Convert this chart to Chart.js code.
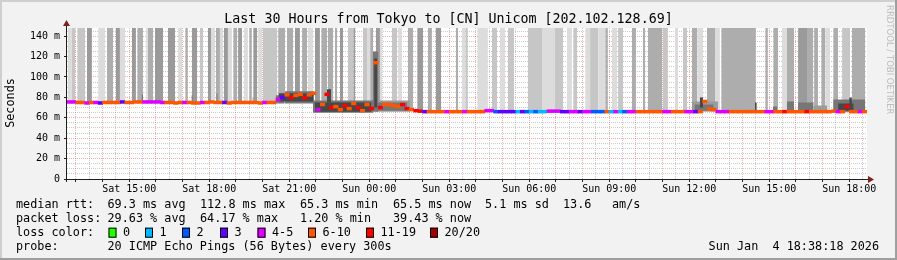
<!DOCTYPE html>
<html>
<head>
<meta charset="UTF-8">
<title>Last 30 Hours from Tokyo to [CN] Unicom [202.102.128.69]</title>
<script src="https://cdn.jsdelivr.net/npm/chart.js"></script>
<style>
  html, body { margin: 0; padding: 0; background: #f2f2f2; }
  #wrap { position: relative; width: 897px; height: 260px; }
</style>
</head>
<body>
<div id="wrap"><canvas id="smoke"></canvas></div>
<script>
// time is minutes counted from Sat 00:00
const startMin = 760;   // Sat 12:40
const endMin = 2560;    // Sun 18:40
const stepMin = 10;     // one median sample per 10 minutes
const yMax = 148;

const xTickTimes = [900, 1080, 1260, 1440, 1620, 1800, 1980, 2160, 2340, 2520];
const xTickLabels = ['Sat 15:00', 'Sat 18:00', 'Sat 21:00', 'Sun 00:00', 'Sun 03:00',
                     'Sun 06:00', 'Sun 09:00', 'Sun 12:00', 'Sun 15:00', 'Sun 18:00'];
const yTickValues = [0, 20, 40, 60, 80, 100, 120, 140];
const yTickLabels = ['0', '20 m', '40 m', '60 m', '80 m', '100 m', '120 m', '140 m'];

// median rtt (ms), one value per 10 min
const median = [
  75.5,75.5,75,75,74.5,75,75,74.5,75,75,
  75,75,75.5,75,75,75.5,75.5,75.5,75.5,75.5,
  75.5,75,75,75,74.5,75,75,75,74.5,74.5,
  75,75,75.5,75,75,75,74.5,75,75,75,
  75,75,75,74.5,75,75,75,78,80,82.5,
  80,82,83,79.5,82.5,84,68,73,83,70,
  71,68,72,69,74,70,67,73,69,114,
  70,73,73,72,71,73,69,68,67,66.5,
  66,66,66,66,66,66,66,66,66,66,
  66,66,66,66,67,67,66,66,66,66,
  66,66,66,66,66,66,66,66,66.5,66.5,
  66.5,66,66,66,66,66,66,66,66,66,
  66,66,66,66,66,66,66,66,66,66,
  66,66,66,66,66,66,66,66,66,66,
  66,66,66,76,68.5,68,66,66,66,66,
  66,66,66,66,66,66,66,66,66,66,
  66,66,66,66,66,66,66,66,66,66,
  66,66,66.5,66,66,71,66,66,66,66
];

// loss colour class per sample (index into lossColors)
const loss = [
  4,4,5,5,4,5,4,3,5,5,
  5,5,3,5,5,5,5,4,4,4,
  4,4,5,5,5,5,4,5,5,5,
  4,5,5,5,5,3,5,5,5,5,
  5,5,5,5,4,5,5,4,3,5,
  6,5,5,6,5,5,4,5,6,6,
  5,5,6,5,5,6,5,5,6,5,
  6,5,5,5,5,6,6,5,6,6,
  3,5,5,5,5,4,5,5,5,4,
  5,5,5,5,4,4,2,3,3,3,
  3,1,3,2,1,2,1,1,4,4,
  4,3,3,4,4,3,4,4,2,2,
  2,5,1,4,1,2,4,4,5,5,
  5,5,5,5,4,4,5,5,5,4,
  4,3,5,5,5,5,4,4,4,5,
  5,5,5,5,5,5,5,4,4,5,
  5,6,5,5,5,5,6,5,5,5,
  5,5,5,4,5,6,5,5,4,5
];

const lossColors = ['#26ff00', '#00b8ff', '#0059ff', '#5e00ff', '#dd00ff', '#ff5500', '#ff0000', '#a00000'];
const lossLabels = ['0', '1', '2', '3', '4-5', '6-10', '11-19', '20/20'];

// tall smoke bands (lost pings): [from, to, shade]
const bands = [
  [762,771,1],[771,778,2],[783,801,2],[805,816,4],[830,846,1],[850,864,3],[870,879,4],[879,891,1],
  [906,915,4],[918,931,3],[938,942,1],[942,954,3],[958,976,4],[987,1003,4],[1010,1019,1],[1026,1032,3],
  [1041,1053,4],[1059,1066,2],[1077,1084,4],[1084,1093,1],[1095,1104,3],[1104,1111,1],[1113,1122,4],
  [1122,1131,1],[1134,1143,3],[1145,1154,4],[1158,1167,1],[1170,1176,3],[1179,1188,4],[1190,1199,1],
  [1201,1233,2],[1235,1251,3],[1255,1269,3],[1273,1284,4],[1289,1300,3],[1302,1314,1],[1318,1329,4],
  [1332,1345,3],[1347,1359,3],[1363,1368,3],[1374,1381,4],[1392,1404,2],[1404,1408,4],[1426,1435,2],
  [1435,1442,1],[1442,1449,3],[1455,1464,4],[1464,1469,1],[1491,1503,2],[1505,1514,1],[1527,1539,3],
  [1548,1561,4],[1572,1581,3],[1590,1602,4],[1635,1640,3],[1649,1656,1],[1656,1662,2],[1683,1707,1],
  [1716,1728,2],[1734,1746,1],[1752,1766,2],[1797,1829,2],[1829,1858,1],[1858,1876,2],[1885,1896,1],
  [1899,1908,2],[1926,1937,1],[1937,1955,2],[1955,1971,1],[1971,1977,3],[1986,1998,1],[2000,2011,2],
  [2031,2040,3],[2056,2061,3],[2067,2099,3],[2101,2112,2],[2128,2135,1],[2146,2155,2],[2166,2178,3],
  [2178,2191,1],[2200,2218,3],[2218,2229,1],[2232,2310,3],[2331,2337,3],[2349,2360,3],[2369,2380,1],
  [2380,2396,3],[2405,2425,4],[2425,2439,3],[2441,2450,3],[2457,2466,3],[2466,2477,1],[2484,2495,3],
  [2504,2522,2],[2526,2556,3]
];
const bandColors = [null, '#dcdcdc', '#c6c6c6', '#adadad', '#9a9a9a'];

// ping spread near the median: [from, to, low ms, high ms, shade]
const spread = [
  [928,931,76,83,2],[1040,1043,76,82,2],[1096,1099,76,84,2],[1177,1180,76,80,1],
  [1230,1250,74,82,2],[1250,1316,74,86,2],[1236,1314,76,84,3],
  [1313,1449,65,77,2],[1318,1445,66,75,3],[1345,1354,75,88,3],
  [1448,1460,66,125,2],[1451,1458,70,118,3],
  [1455,1532,66,77,1],[1458,1525,67,75,2],
  [2166,2225,66,76,1],[2172,2215,67,73,2],[2184,2191,70,80,3],
  [2308,2312,66,75,3],[2348,2358,66,71,2],[2380,2396,66,76,2],[2405,2440,66,75,2],
  [2440,2470,66,72,1],[2484,2556,66,78,2],[2495,2530,67,74,3],[2520,2526,68,80,3]
];
const spreadColors = [null, '#9c9c9c', '#767676', '#474747'];

const rttStats = ['69.3 ms avg', '112.8 ms max', '65.3 ms min', '65.5 ms now', '5.1 ms sd', '13.6', 'am/s'];
const lossStats = ['29.63 % avg', '64.17 % max', '1.20 % min', '39.43 % now'];

const minorGrid = 'rgba(143,143,143,0.45)';
const majorGrid = 'rgba(222,79,79,0.45)';
const axisColor = '#1f1f1f';
const arrowColor = '#801f1f';
const mono = '"DejaVu Sans Mono", monospace';

const medianAt = t => median[Math.max(0, Math.min(median.length - 1, Math.floor((t - startMin) / stepMin)))];

const datasets = [];
datasets.push({
  type: 'bar',
  data: median.map((m, i) => ({ x: startMin + stepMin * i + stepMin / 2, y: [m - 1.4, m + 1.4] })),
  backgroundColor: loss.map(l => lossColors[l]),
  borderWidth: 0,
  barPercentage: 1,
  categoryPercentage: 1,
  order: 0
});
spread.forEach(([s, e, lo, hi, c]) => datasets.push({
  type: 'line',
  data: [{ x: s, y: hi }, { x: e, y: hi }],
  fill: { value: lo },
  backgroundColor: spreadColors[c],
  borderColor: 'transparent',
  borderWidth: 0,
  pointRadius: 0,
  order: 1 + (4 - c) * 0.1
}));
bands.forEach(([s, e, c]) => datasets.push({
  type: 'line',
  data: [{ x: s, y: yMax }, { x: e, y: yMax }],
  fill: { value: Math.min(medianAt(s), medianAt(e)) },
  backgroundColor: bandColors[c],
  borderColor: 'transparent',
  borderWidth: 0,
  pointRadius: 0,
  order: 2
}));

const gridTimes = [];
for (let t = 780; t < endMin; t += 30) gridTimes.push(t);
const gridValues = [];
for (let v = 0; v < yMax; v += 5) gridValues.push(v);

const decor = {
  id: 'decor',
  beforeDraw(chart) {
    const { ctx, chartArea: a } = chart;
    ctx.save();
    ctx.fillStyle = '#f2f2f2';
    ctx.fillRect(0, 0, chart.width, chart.height);
    ctx.fillStyle = '#ffffff';
    ctx.fillRect(a.left, a.top, a.right - a.left, a.bottom - a.top);
    ctx.restore();
  },
  afterDraw(chart) {
    const { ctx, chartArea: a, width: w, height: h } = chart;
    ctx.save();
    // frame
    ctx.fillStyle = '#cfcfcf';
    ctx.fillRect(0, 0, w, 2);
    ctx.fillRect(0, 0, 2, h);
    ctx.fillStyle = '#9e9e9e';
    ctx.fillRect(0, h - 2, w, 2);
    ctx.fillRect(w - 2, 0, 2, h);

    // axes
    ctx.strokeStyle = axisColor;
    ctx.lineWidth = 1;
    ctx.beginPath();
    ctx.moveTo(a.left - 3, a.bottom + 0.5);
    ctx.lineTo(a.right + 2, a.bottom + 0.5);
    ctx.moveTo(a.left - 0.5, a.bottom + 3);
    ctx.lineTo(a.left - 0.5, a.top - 2);
    ctx.stroke();
    ctx.fillStyle = arrowColor;
    ctx.beginPath();
    ctx.moveTo(a.right + 1, a.bottom - 3);
    ctx.lineTo(a.right + 7, a.bottom + 0.5);
    ctx.lineTo(a.right + 1, a.bottom + 4);
    ctx.closePath();
    ctx.fill();
    ctx.beginPath();
    ctx.moveTo(a.left - 4, a.top - 2);
    ctx.lineTo(a.left - 0.5, a.top - 8);
    ctx.lineTo(a.left + 3, a.top - 2);
    ctx.closePath();
    ctx.fill();

    // title
    ctx.fillStyle = '#000';
    ctx.textBaseline = 'middle';
    ctx.textAlign = 'center';
    ctx.font = '13.3px ' + mono;
    ctx.fillText('Last 30 Hours from Tokyo to [CN] Unicom [202.102.128.69]', 448.5, 19.5);

    // y title
    ctx.save();
    ctx.translate(10.5, 103);
    ctx.rotate(-Math.PI / 2);
    ctx.font = '11.8px ' + mono;
    ctx.fillText('Seconds', 0, 0);
    ctx.restore();

    // watermark
    ctx.save();
    ctx.translate(889, 5);
    ctx.rotate(Math.PI / 2);
    ctx.textAlign = 'left';
    ctx.fillStyle = '#bdbdbd';
    ctx.font = '8.5px "DejaVu Sans", sans-serif';
    ctx.fillText('RRDTOOL / TOBI OETIKER', 0, 0);
    ctx.restore();

    // legend
    ctx.textAlign = 'left';
    ctx.font = '11.8px ' + mono;
    ctx.fillStyle = '#000';
    const rows = [204.5, 218.7, 232.7, 246.8];
    const cols = [107.5, 200, 300, 393, 485, 563, 612];
    ctx.fillText('median rtt:', 16, rows[0]);
    rttStats.forEach((s, i) => ctx.fillText(s, cols[i], rows[0]));
    ctx.fillText('packet loss:', 16, rows[1]);
    lossStats.forEach((s, i) => ctx.fillText(s, cols[i], rows[1]));
    ctx.fillText('loss color:', 16, rows[2]);
    const boxX = [108.5, 145, 182, 220, 257.5, 308, 366, 430];
    lossLabels.forEach((lab, i) => {
      ctx.fillStyle = lossColors[i];
      ctx.fillRect(boxX[i], rows[2] - 5, 8, 10);
      ctx.strokeStyle = '#000';
      ctx.strokeRect(boxX[i] + 0.5, rows[2] - 4.5, 7, 9);
      ctx.fillStyle = '#000';
      ctx.fillText(lab, boxX[i] + 14.5, rows[2]);
    });
    ctx.fillText('probe:', 16, rows[3]);
    ctx.fillText('20 ICMP Echo Pings (56 Bytes) every 300s', 107.5, rows[3]);
    ctx.textAlign = 'right';
    ctx.fillText('Sun Jan  4 18:38:18 2026', 879, rows[3]);
    ctx.restore();
  }
};

new Chart(document.getElementById('smoke'), {
  type: 'line',
  data: { datasets },
  plugins: [decor],
  options: {
    responsive: true,
    maintainAspectRatio: false,
    animation: false,
    events: [],
    layout: { padding: { top: 28, left: 0, right: 30, bottom: 0 } },
    plugins: { legend: { display: false }, tooltip: { enabled: false } },
    scales: {
      x: {
        type: 'linear',
        min: startMin,
        max: endMin,
        offset: false,
        z: 1,
        afterBuildTicks: s => { s.ticks = gridTimes.map(v => ({ value: v })); },
        afterFit: s => { s.height = 81; },
        border: { display: false, dash: [1, 1] },
        grid: {
          offset: false,
          color: c => (c.tick && c.tick.value % 60 === 0) ? majorGrid : minorGrid,
          tickLength: 3,
          tickColor: c => (c.tick && c.tick.value % 60 === 0) ? axisColor : 'transparent'
        },
        ticks: {
          autoSkip: false,
          maxRotation: 0,
          padding: 1,
          color: '#000',
          font: { family: mono, size: 10 },
          callback: v => {
            const k = xTickTimes.indexOf(v);
            return k < 0 ? '' : xTickLabels[k];
          }
        }
      },
      y: {
        min: 0,
        max: yMax,
        z: 1,
        afterBuildTicks: s => { s.ticks = gridValues.map(v => ({ value: v })); },
        afterFit: s => { s.width = 67; },
        border: { display: false, dash: [1, 1] },
        grid: {
          color: c => (c.tick && c.tick.value % 20 === 0) ? majorGrid : minorGrid,
          tickLength: 3,
          tickColor: c => (c.tick && c.tick.value % 20 === 0) ? axisColor : 'transparent'
        },
        ticks: {
          autoSkip: false,
          padding: 4,
          color: '#000',
          font: { family: mono, size: 10 },
          callback: v => {
            const k = yTickValues.indexOf(v);
            return k < 0 ? '' : yTickLabels[k];
          }
        }
      }
    }
  }
});
</script>
</body>
</html>
